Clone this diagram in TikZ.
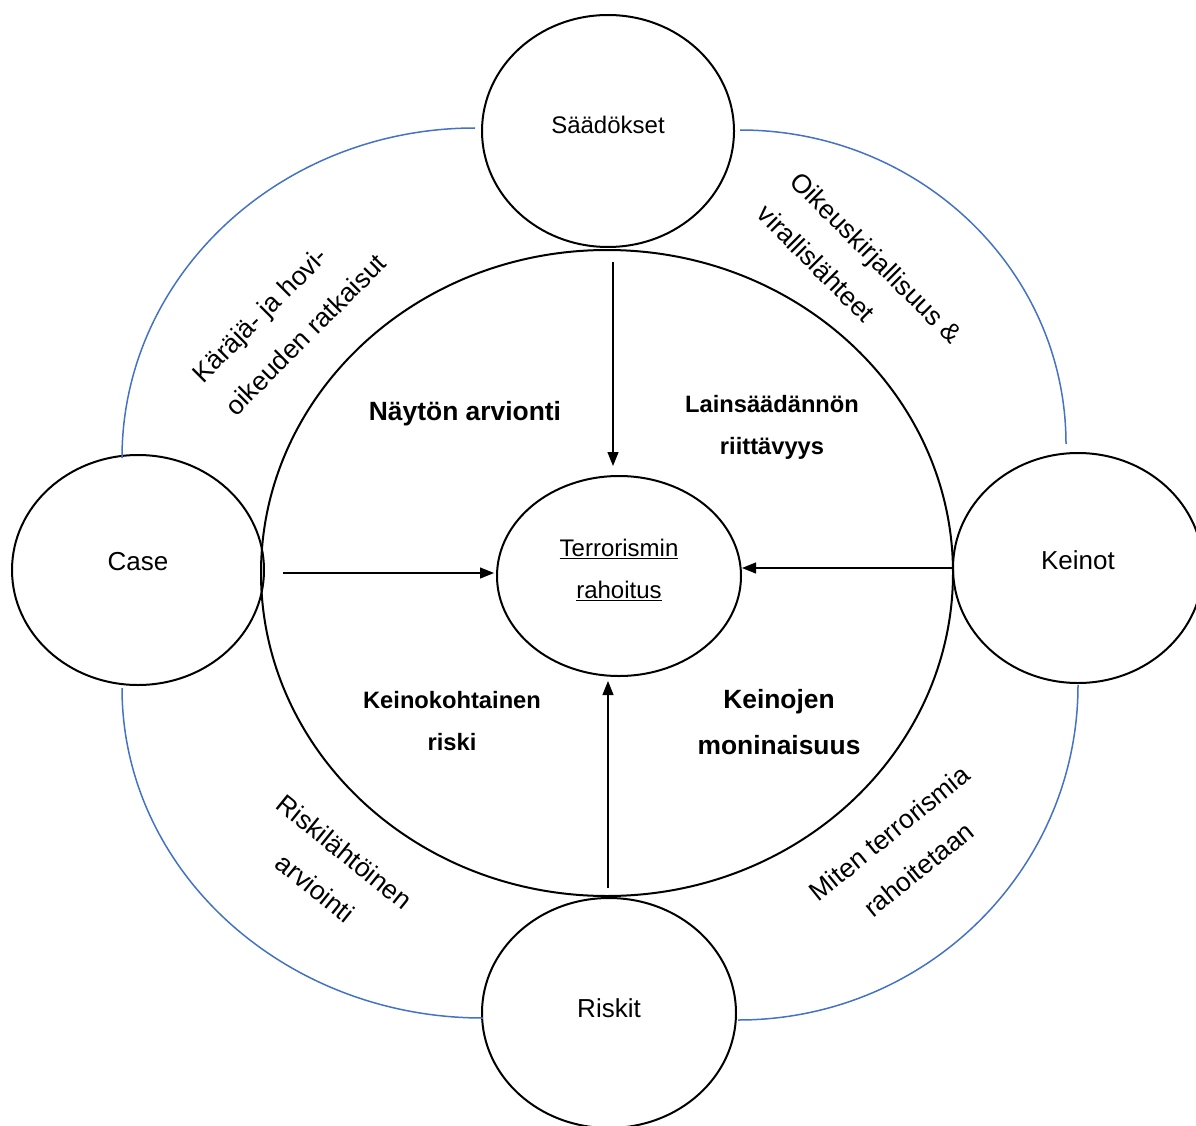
\documentclass[tikz,border=0pt]{standalone}
\usepackage{fontspec}
\setmainfont{Liberation Sans}
\usetikzlibrary{shapes.geometric,arrows.meta,calc}
\definecolor{linkblue}{RGB}{68,114,196}
\begin{document}
\begin{tikzpicture}[x=1pt,y=-1pt,
  ring/.style={draw, ellipse, line width=2pt, inner sep=0pt},
  link/.style={draw=linkblue, line width=1.5pt},
  arr/.style={line width=1.2pt, -{Triangle[length=14pt,width=11pt]}},
  ringtxt/.style={font=\fontsize{26}{30}\selectfont, inner sep=0pt},
  smalltxt/.style={font=\fontsize{24}{28}\selectfont, inner sep=0pt},
  theme/.style={font=\bfseries\fontsize{23.7}{42}\selectfont, align=center, inner sep=0pt},
  bigtheme/.style={font=\bfseries\fontsize{26.4}{46}\selectfont, align=center, inner sep=0pt},
  source/.style={font=\fontsize{26.5}{46.5}\selectfont, inner sep=0pt}]
\useasboundingbox (0,0) rectangle (1196,1126);
\clip (0,0) rectangle (1196,1126);

% outer circles and the core
\node[ring, minimum width=692pt, minimum height=646pt] (big) at (607,573) {};
\node[ring, minimum width=244pt, minimum height=200pt,
      label={[smalltxt, align=center, yshift=6pt, font=\fontsize{24}{42}\selectfont]center:\underline{Terrorismin}\\\underline{rahoitus}}] (ter) at (619,576) {};
\node[ring, minimum width=252pt, minimum height=232pt,
      label={[smalltxt, yshift=6pt]center:Säädökset}] (sad) at (608,131) {};
\node[ring, minimum width=252pt, minimum height=230pt,
      label={[ringtxt, yshift=8pt]center:Case}] (case) at (138,570) {};
\node[ring, minimum width=250pt, minimum height=230pt,
      label={[ringtxt, yshift=8pt]center:Keinot}] (kei) at (1078,568) {};
\node[ring, minimum width=254pt, minimum height=230pt,
      label={[ringtxt, yshift=5pt]center:Riskit}] (ris) at (609,1013) {};

% blue links between the outer circles
\coordinate (tlA) at (475,128);
\coordinate (trA) at (740,130);
\coordinate (blA) at (122,688);
\coordinate (brA) at (1078,685);
\draw[link] (tlA) arc[start angle=270, end angle=180, x radius=353, y radius=330];
\draw[link] (trA) arc[start angle=270, end angle=360, x radius=326, y radius=314];
\draw[link] (blA) arc[start angle=180, end angle=90, x radius=361, y radius=330];
\draw[link] (brA) arc[start angle=0, end angle=90, x radius=340, y radius=335];

% arrows into the core
\coordinate (inN) at (613,262);
\coordinate (inW) at (283,573);
\coordinate (inS) at (608,888);
\draw[arr, shorten >=9pt] (inN) -- (inN |- ter.north);
\draw[arr, shorten >=2pt] (inW) -- (inW -| ter.west);
\draw[arr] (kei.west) -- (kei.west -| ter.east);
\draw[arr, shorten >=4pt] (inS) -- (inS |- ter.south);

% themes inside the big circle
\node[bigtheme] (nay) at (465,414) {Näytön arvionti};
\node[theme] (lai) at (772,427) {Lainsäädännön\\riittävyys};
\node[theme] (kko) at (452,721) {Keinokohtainen\\riski};
\node[bigtheme] (kmo) at (779,722) {Keinojen\\moninaisuus};

% sources along the blue links
\node[source, align=left, rotate=45] (kar) at (289,318) {Käräjä- ja hovi-\\oikeuden ratkaisut};
\node[source, align=left, rotate=-45] (oik) at (860,274) {Oikeuskirjallisuus \&\\virallislähteet};
\node[source, align=center, rotate=-39] (rla) at (330,870) {Riskilähtöinen\\arviointi};
\node[source, align=center, rotate=39] (mit) at (904,851) {Miten terrorismia\\rahoitetaan};
\end{tikzpicture}
\end{document}
